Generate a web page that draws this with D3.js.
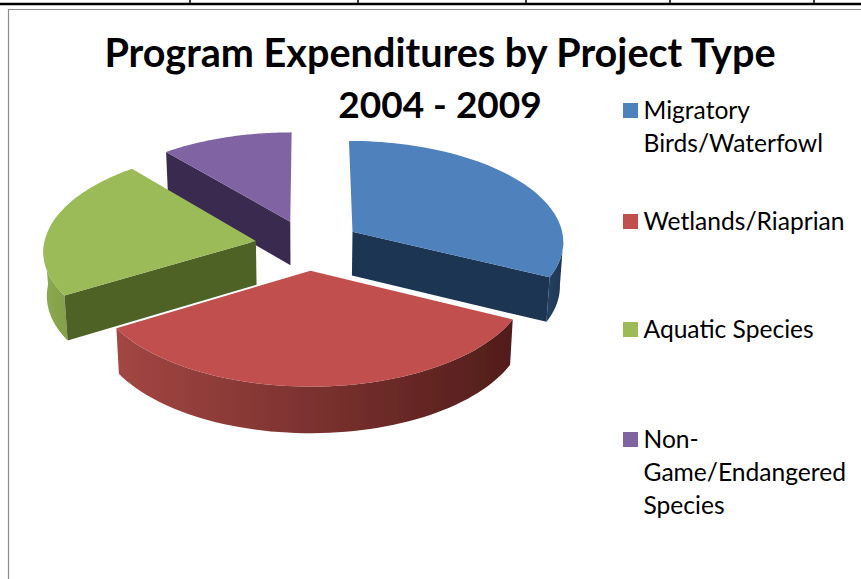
<!DOCTYPE html>
<html lang="en">
    <head>
        <meta charset="utf-8">
        <title>Program Expenditures by Project Type</title>
        <script type="text/javascript" src="https://cdn.jsdelivr.net/npm/d3@7"></script>
        <style>
            html, body { margin: 0; padding: 0; background: #fff; }
            svg { display: block; }
            text { font-family: Lato, "Open Sans", sans-serif; fill: #000; }
        </style>
    </head>
    <body>
        <script type="text/javascript">
            // values, share of spending in percent
            var categories = ["Migratory Birds/Waterfowl", "Wetlands/Riaprian", "Aquatic Species", "Non-Game/Endangered Species"];
            var values = [32.3, 34, 22.6, 11.1];
            var legendLines = [["Migratory", "Birds/Waterfowl"], ["Wetlands/Riaprian"], ["Aquatic Species"], ["Non-", "Game/Endangered", "Species"]];
            var titleLines = ["Program Expenditures by Project Type", "2004 - 2009"];
            var tickX = [190, 358, 526, 670, 814];

            var topColors = ["#4f81bd", "#c0504d", "#9bbb59", "#8064a2"];
            var faceColors = ["#1f3552", "#58201d", "#4f6228", "#3a2a50"];
            var wallStops = [["#22405f", "#1f3552"], ["#a34643", "#521d1b"], ["#8dab50", "#84a04a"], ["#3a2a50", "#3a2a50"]];

            var w = 861;
            var h = 579;

            // pie seen from above: 3d look comes from a small perspective divide
            var cx = 308, cy = 245, rx = 212, ry = 101;
            var persp = 0.087;
            var explode = 0.25;
            var depth = 44;

            var xScale = d3.scaleLinear().domain([-1, 1]).range([cx - rx, cx + rx]);
            var yScale = d3.scaleLinear().domain([-1, 1]).range([cy + ry, cy - ry]);

            function project(u, v, drop) {
                var k = 1 + persp * v;
                var x = xScale(u / k), y = yScale(v / k);
                if (drop) {
                    x = cx + (x - cx) * 0.987;
                    y = y + depth / Math.sqrt(k);
                }
                return [x, y];
            }

            var svg = d3.select("body").append("svg")
                .attr("width", w)
                .attr("height", h);

            // frame and the table lines above it
            svg.append("line").attr("x1", 0).attr("x2", w).attr("y1", 4).attr("y2", 4)
                .attr("stroke", "#000").attr("stroke-width", 2.5);
            svg.selectAll("line.tick").data(tickX).enter().append("line")
                .attr("class", "tick")
                .attr("x1", function(d){ return d; }).attr("x2", function(d){ return d; })
                .attr("y1", 0).attr("y2", 4)
                .attr("stroke", "#000").attr("stroke-width", 1.5);
            svg.append("path").attr("d", "M8.5," + h + "V9.5H" + w)
                .attr("fill", "none").attr("stroke", "#8c8c8c").attr("stroke-width", 1.2);

            var defs = svg.append("defs");
            defs.append("filter").attr("id", "soft")
                .append("feGaussianBlur").attr("stdDeviation", 0.6);

            var pie = d3.pie().sort(null).value(function(d){ return d; });
            var arcs = pie(values);
            var line = d3.line();

            function corners(a) {
                var mid = (a.startAngle + a.endAngle) / 2;
                return { ox: explode * Math.sin(mid), oy: explode * Math.cos(mid) };
            }

            function rim(a, from, to, drop) {
                var c = corners(a);
                return d3.range(0, 61).map(function(i){
                    var t = from + (to - from) * i / 60;
                    return project(c.ox + Math.sin(t), c.oy + Math.cos(t), drop);
                });
            }

            var chart = svg.append("g").attr("filter", "url(#soft)");

            // back slices first, red is in front of everything
            [3, 0, 2, 1].forEach(function(i){
                var a = arcs[i];
                var c = corners(a);
                var apexTop = project(c.ox, c.oy, false);
                var apexBottom = project(c.ox, c.oy, true);

                // outer wall, only the part turned towards us
                var from = Math.max(a.startAngle, Math.PI * 0.53);
                var to = Math.min(a.endAngle, Math.PI * 1.5);
                if (to > from) {
                    var topEdge = rim(a, from, to, false);
                    var bottomEdge = rim(a, from, to, true);
                    var xs = d3.extent(topEdge, function(p){ return p[0]; });
                    var grad = defs.append("linearGradient")
                        .attr("id", "wall" + i)
                        .attr("gradientUnits", "userSpaceOnUse")
                        .attr("x1", xs[0]).attr("x2", xs[1])
                        .attr("y1", 0).attr("y2", 0);
                    grad.append("stop").attr("offset", 0).attr("stop-color", wallStops[i][0]);
                    grad.append("stop").attr("offset", 1).attr("stop-color", wallStops[i][1]);
                    chart.append("path")
                        .attr("d", line(topEdge.concat(bottomEdge.reverse())) + "Z")
                        .attr("fill", "url(#wall" + i + ")");
                }

                // cut faces that look at the viewer
                [[a.startAngle, Math.sin(a.startAngle) < -0.01], [a.endAngle, Math.sin(a.endAngle) > 0.01]].forEach(function(f){
                    if (!f[1]) return;
                    var t = f[0];
                    var rimTop = project(c.ox + Math.sin(t), c.oy + Math.cos(t), false);
                    var rimBottom = project(c.ox + Math.sin(t), c.oy + Math.cos(t), true);
                    chart.append("path")
                        .attr("d", line([apexTop, rimTop, rimBottom, apexBottom]) + "Z")
                        .attr("fill", faceColors[i]);
                });

                chart.append("path")
                    .attr("d", line([apexTop].concat(rim(a, a.startAngle, a.endAngle, false))) + "Z")
                    .attr("fill", topColors[i]);
            });

            // Title
            var titleSizes = [39.6, 37];
            svg.selectAll("text.title").data(titleLines).enter().append("text")
                .attr("class", "title")
                .attr("x", 440)
                .attr("y", function(d, i){ return i === 0 ? 67 : 118; })
                .attr("text-anchor", "middle")
                .attr("font-size", function(d, i){ return titleSizes[i] + "px"; })
                .attr("font-weight", 700)
                .text(function(d){ return d; });

            // Legend
            var legendBaseY = [119, 230, 338, 448];
            var legend = svg.selectAll("g.legend").data(categories).enter().append("g")
                .attr("class", "legend");
            legend.append("rect")
                .attr("x", 623)
                .attr("y", function(d, i){ return legendBaseY[i] - 16; })
                .attr("width", 15).attr("height", 15)
                .attr("fill", function(d, i){ return topColors[i]; });
            legend.each(function(d, i){
                d3.select(this).selectAll("text").data(legendLines[i]).enter().append("text")
                    .attr("x", 643.5)
                    .attr("y", function(t, j){ return legendBaseY[i] + j * 33; })
                    .attr("font-size", "24.6px")
                    .text(function(t){ return t; });
            });
        </script>
    </body>
</html>
